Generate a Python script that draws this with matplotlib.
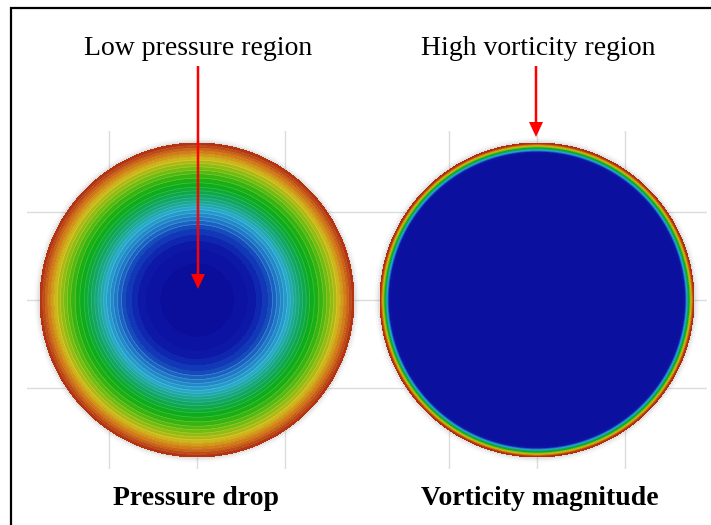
import numpy as np
import matplotlib
matplotlib.use('Agg')
import matplotlib.pyplot as plt
from matplotlib.colors import LinearSegmentedColormap
from matplotlib.patches import Circle

# 径向分布（归一化半径 -> 归一化数值）
p_radius = [0.0, 0.15, 0.30, 0.38, 0.45, 0.52, 0.58, 0.64, 0.72, 0.80, 0.86, 0.91, 0.95, 1.0]
p_value = [0.0, 0.01, 0.05, 0.10, 0.16, 0.25, 0.34, 0.45, 0.57, 0.66, 0.75, 0.83, 0.90, 1.0]

w_radius = [0.0, 0.93, 0.945, 0.958, 0.970, 0.980, 0.990, 1.0]
w_value = [0.04, 0.04, 0.08, 0.35, 0.55, 0.75, 0.88, 1.0]

top_labels = ['Low pressure region', 'High vorticity region']
bottom_labels = ['Pressure drop', 'Vorticity magnitude']

cmap = LinearSegmentedColormap.from_list('cfd', [
    (0.00, (0.04, 0.04, 0.60)),
    (0.08, (0.05, 0.09, 0.65)),
    (0.15, (0.07, 0.22, 0.72)),
    (0.25, (0.12, 0.47, 0.78)),
    (0.35, (0.15, 0.66, 0.80)),
    (0.50, (0.05, 0.65, 0.35)),
    (0.60, (0.05, 0.68, 0.08)),
    (0.72, (0.45, 0.74, 0.05)),
    (0.82, (0.80, 0.72, 0.08)),
    (0.90, (0.82, 0.45, 0.06)),
    (1.00, (0.68, 0.16, 0.06)),
])

fig = plt.figure(figsize=(7.11, 5.25), dpi=100)
fig.patch.set_facecolor('white')

theta = np.linspace(0, 2 * np.pi, 361)


def disc(ax, radius, value, levels, lines):
    r = np.array(radius)
    X = r[:, None] * np.cos(theta)[None, :]
    Y = r[:, None] * np.sin(theta)[None, :]
    Z = np.repeat(np.array(value)[:, None], len(theta), axis=1)
    # 边缘的灰色光晕
    for k, a in zip([1.035, 1.022, 1.012], [0.05, 0.08, 0.12]):
        ax.add_patch(Circle((0, 0), k, color='gray', alpha=a, lw=0, zorder=1))
    ax.contourf(X, Y, Z, levels=levels, cmap=cmap, vmin=0, vmax=1, zorder=2)
    if lines:
        ax.contour(X, Y, Z, levels=levels[6:], colors='white', linewidths=0.5,
                   alpha=0.2, zorder=3)
    ax.set_xlim(-1.083, 1.083)
    ax.set_ylim(-1.076, 1.076)
    ax.set_aspect('equal')
    ax.set_xticks([-0.56, 0, 0.56])
    ax.set_yticks([-0.56, 0, 0.56])
    ax.tick_params(length=0, labelbottom=False, labelleft=False)
    ax.grid(True, color='#dcdcdc', lw=1)
    ax.set_axisbelow(True)
    for s in ax.spines.values():
        s.set_visible(False)


ax1 = fig.add_axes([27 / 711, 1 - 469 / 525, 340 / 711, 338 / 525])
disc(ax1, p_radius, p_value, np.linspace(0, 1, 31), True)

ax2 = fig.add_axes([367 / 711, 1 - 469 / 525, 340 / 711, 338 / 525])
disc(ax2, w_radius, w_value, np.linspace(0, 1, 61), False)

# 文字、箭头、边框
ov = fig.add_axes([0, 0, 1, 1], zorder=10)
ov.set_xlim(0, 711)
ov.set_ylim(525, 0)
ov.axis('off')
ov.patch.set_alpha(0)

ov.text(198, 55, top_labels[0], ha='center', va='baseline',
        family='Liberation Serif', fontsize=20)
ov.text(538, 55, top_labels[1], ha='center', va='baseline',
        family='Liberation Serif', fontsize=20)
ov.text(196, 505, bottom_labels[0], ha='center', va='baseline',
        family='Liberation Serif', fontsize=20, fontweight='bold')
ov.text(540, 505, bottom_labels[1], ha='center', va='baseline',
        family='Liberation Serif', fontsize=20, fontweight='bold')

ov.arrow(198, 66, 0, 223, width=2.5, head_width=14, head_length=15,
         length_includes_head=True, color='red', lw=0)
ov.arrow(536, 66, 0, 71, width=2.5, head_width=14, head_length=15,
         length_includes_head=True, color='red', lw=0)

ov.plot([11, 11, 711], [525, 7.5, 7.5], color='black', lw=1.6,
        solid_joinstyle='miter')

fig.savefig('out.png', dpi=100)
